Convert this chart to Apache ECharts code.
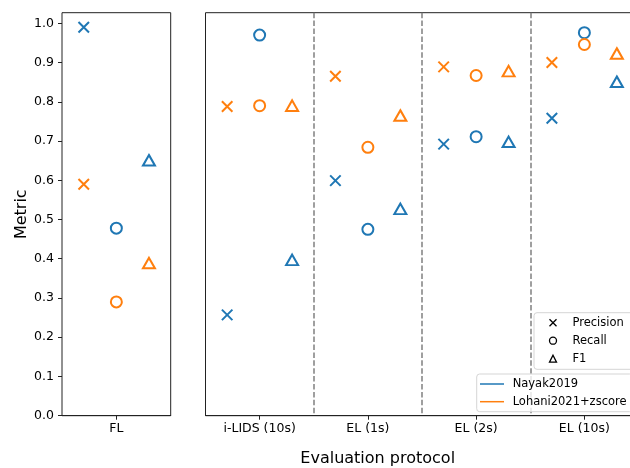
<!DOCTYPE html>
<html>
<head>
<meta charset="utf-8">
<script src="https://cdn.jsdelivr.net/npm/echarts@6/dist/echarts.min.js"></script>
<style>
    html, body { margin: 0; padding: 0; background: #fff; }
    #chart { width: 630px; height: 468px; }
</style>
</head>
<body>
<div id="chart"></div>
<script>
// data
var groups = ['FL', 'i-LIDS (10s)', 'EL (1s)', 'EL (2s)', 'EL (10s)'];
var methods = ['Nayak2019', 'Lohani2021+zscore'];
var metrics = ['Precision', 'Recall', 'F1'];
var yTicks = [0, 0.1, 0.2, 0.3, 0.4, 0.5, 0.6, 0.7, 0.8, 0.9, 1.0];

var nayakPrecision = [0.99, 0.257, 0.599, 0.692, 0.758];
var nayakRecall = [0.478, 0.970, 0.475, 0.711, 0.976];
var nayakF1 = [0.651, 0.397, 0.527, 0.698, 0.851];
var lohaniPrecision = [0.59, 0.788, 0.865, 0.889, 0.900];
var lohaniRecall = [0.29, 0.790, 0.684, 0.867, 0.946];
var lohaniF1 = [0.389, 0.790, 0.765, 0.878, 0.923];

var values = [
    [nayakPrecision, nayakRecall, nayakF1],
    [lohaniPrecision, lohaniRecall, lohaniF1]
];

var colors = ['#1f77b4', '#ff7f0e'];
var FONT = 'DejaVu Sans';
var crossPath = 'path://M0,0L10,10M0,10L10,0';
var symbols = [crossPath, 'circle', 'triangle'];
var symbolSizes = [10.5, 11, [12, 10.5]];
var offsets = [-0.3, 0, 0.3];

var chart = echarts.init(document.getElementById('chart'));

function xCategory(gridIndex, data, split) {
    return {
        gridIndex: gridIndex,
        type: 'category',
        position: 'bottom',
        data: data,
        boundaryGap: true,
        axisLine: {show: true, lineStyle: {color: '#222', width: 1}},
        axisTick: {show: true, alignWithLabel: true, length: 4, lineStyle: {color: '#222', width: 1}},
        axisLabel: {color: '#000', fontFamily: FONT, fontSize: 12.5, margin: 7},
        splitLine: {
            show: split,
            showMinLine: false,
            showMaxLine: false,
            lineStyle: {color: '#808080', width: 1.5, type: [5.5, 2.4]}
        }
    };
}

function yValue(gridIndex, labels) {
    return {
        gridIndex: gridIndex,
        type: 'value',
        min: 0,
        max: 1.027,
        name: labels ? 'Metric' : '',
        nameLocation: 'middle',
        nameGap: 31,
        nameTextStyle: {color: '#000', fontFamily: FONT, fontSize: 16},
        axisLine: {show: false},
        axisTick: labels ? {show: true, length: 4, customValues: yTicks, lineStyle: {color: '#222'}} : {show: false},
        axisLabel: {
            show: labels,
            customValues: yTicks,
            color: '#000',
            fontFamily: FONT,
            fontSize: 12.5,
            margin: 8,
            formatter: function (v) { return v.toFixed(1); }
        },
        splitLine: {show: false}
    };
}

var series = [];
for (var m = 0; m < methods.length; m++) {
    for (var k = 0; k < metrics.length; k++) {
        var left = [], right = [];
        for (var g = 0; g < groups.length; g++) {
            var v = values[m][k][g];
            if (g === 0) {
                left.push([0.5 + offsets[k], v]);
            } else {
                right.push([g - 1 + 0.5 + offsets[k], v]);
            }
        }
        var style = {color: 'none', borderColor: colors[m], borderWidth: 2, opacity: 1};
        series.push({
            name: methods[m] + ' ' + metrics[k] + ' FL',
            type: 'scatter', xAxisIndex: 0, yAxisIndex: 0,
            symbol: symbols[k], symbolSize: symbolSizes[k],
            itemStyle: style, data: left, silent: true
        });
        series.push({
            name: methods[m] + ' ' + metrics[k],
            type: 'scatter', xAxisIndex: 2, yAxisIndex: 1,
            symbol: symbols[k], symbolSize: symbolSizes[k],
            itemStyle: style, data: right, silent: true
        });
    }
}

// legend-only series
for (var i = 0; i < metrics.length; i++) {
    series.push({
        name: metrics[i], type: 'scatter', xAxisIndex: 2, yAxisIndex: 1,
        symbol: symbols[i], itemStyle: {color: 'none', borderColor: '#000', borderWidth: 1.3, opacity: 1}, data: []
    });
}
for (var j = 0; j < methods.length; j++) {
    series.push({
        name: methods[j], type: 'line', xAxisIndex: 2, yAxisIndex: 1,
        color: colors[j], showSymbol: false, data: []
    });
}

var legendBox = {
    backgroundColor: 'rgba(255,255,255,0.8)',
    borderColor: '#d5d5d5',
    borderWidth: 1,
    borderRadius: 3
};

var option = {
    animation: false,
    backgroundColor: '#fff',
    textStyle: {fontFamily: FONT},
    grid: [
        {left: 62, top: 12.7, width: 108.7, height: 403, show: true, borderColor: '#222', borderWidth: 1,
            backgroundColor: 'transparent', outerBoundsMode: 'none'},
        {left: 205.5, top: 12.7, width: 433, height: 403, show: true, borderColor: '#222', borderWidth: 1,
            backgroundColor: 'transparent', outerBoundsMode: 'none'}
    ],
    xAxis: [
        {gridIndex: 0, type: 'value', min: 0, max: 1, show: false},
        xCategory(0, groups.slice(0, 1), false),
        {gridIndex: 1, type: 'value', min: 0, max: 4, show: false},
        xCategory(1, groups.slice(1), true)
    ],
    yAxis: [yValue(0, true), yValue(1, false)],
    legend: [
        Object.assign({
            orient: 'vertical',
            left: 534, top: 312.7,
            padding: [3, 20, 3.6, 13],
            itemWidth: 7, itemHeight: 7, itemGap: 4,
            selectedMode: false,
            data: metrics.map(function (name, i) { return {name: name, icon: symbols[i]}; }),
            itemStyle: {color: 'none', borderColor: '#000', borderWidth: 1.3},
            formatter: function (name) { return '{p|' + name + '}'; },
            textStyle: {
                color: '#000', fontFamily: FONT, fontSize: 11.5, lineHeight: 14,
                rich: {p: {color: '#000', fontFamily: FONT, fontSize: 11.5, lineHeight: 14, padding: [0, 0, 0, 11]}}
            }
        }, legendBox),
        Object.assign({
            orient: 'vertical',
            left: 476.7, top: 374,
            padding: [3, 6, 3, 3.3],
            itemWidth: 24, itemHeight: 1.5, itemGap: 3.7,
            selectedMode: false,
            data: methods.map(function (name) { return {name: name, icon: 'rect'}; }),
            formatter: function (name) { return ' ' + name; },
            textStyle: {color: '#000', fontFamily: FONT, fontSize: 11.5, lineHeight: 14}
        }, legendBox)
    ],
    graphic: [{
        type: 'text',
        left: 378.3 - 78, top: 451,
        style: {text: 'Evaluation protocol', fontFamily: FONT, fontSize: 16, fill: '#000'}
    }],
    series: series
};

chart.setOption(option);
</script>
</body>
</html>
